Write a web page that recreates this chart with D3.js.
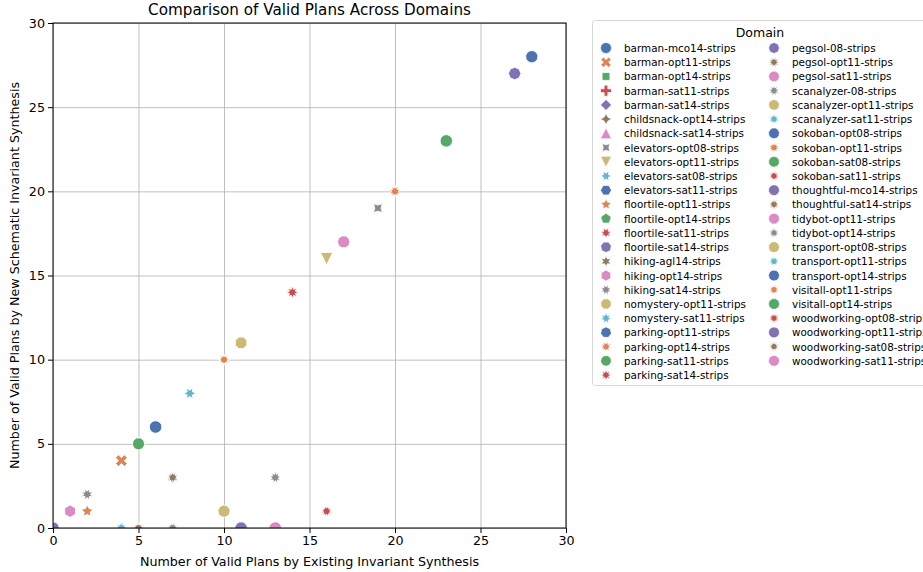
<!DOCTYPE html>
<html>
<head>
<meta charset="utf-8">
<script src="https://cdn.jsdelivr.net/npm/d3@7"></script>
<style>
  body { margin: 0; background: #fff; }
  text { font-family: "DejaVu Sans", sans-serif; fill: #000; }
</style>
</head>
<body>
<div id="chart"></div>
<script>
// domains in legend order (plot order too)
const domains = [
  "barman-mco14-strips", "barman-opt11-strips", "barman-opt14-strips", "barman-sat11-strips",
  "barman-sat14-strips", "childsnack-opt14-strips", "childsnack-sat14-strips", "elevators-opt08-strips",
  "elevators-opt11-strips", "elevators-sat08-strips", "elevators-sat11-strips", "floortile-opt11-strips",
  "floortile-opt14-strips", "floortile-sat11-strips", "floortile-sat14-strips", "hiking-agl14-strips",
  "hiking-opt14-strips", "hiking-sat14-strips", "nomystery-opt11-strips", "nomystery-sat11-strips",
  "parking-opt11-strips", "parking-opt14-strips", "parking-sat11-strips", "parking-sat14-strips",
  "pegsol-08-strips", "pegsol-opt11-strips", "pegsol-sat11-strips", "scanalyzer-08-strips",
  "scanalyzer-opt11-strips", "scanalyzer-sat11-strips", "sokoban-opt08-strips", "sokoban-opt11-strips",
  "sokoban-sat08-strips", "sokoban-sat11-strips", "thoughtful-mco14-strips", "thoughtful-sat14-strips",
  "tidybot-opt11-strips", "tidybot-opt14-strips", "transport-opt08-strips", "transport-opt11-strips",
  "transport-opt14-strips", "visitall-opt11-strips", "visitall-opt14-strips", "woodworking-opt08-strips",
  "woodworking-opt11-strips", "woodworking-sat08-strips", "woodworking-sat11-strips"
];
// valid plans, existing invariant synthesis (x)
const existingPlans = [
  6, 4, 0, 0, 0, 0, 0, 19,
  16, 8, 0, 2, 5, 0, 11, 7,
  1, 2, 11, 4, 0, 14, 5, 14,
  27, 0, 17, 13, 10, 4, 28, 20,
  23, 16, 11, 7, 13, 7, 0, 0,
  0, 10, 23, 0, 0, 5, 13
];
// valid plans, new schematic invariant synthesis (y)
const schematicPlans = [
  6, 4, 0, 0, 0, 0, 0, 19,
  16, 8, 0, 1, 5, 0, 0, 3,
  1, 2, 11, 0, 0, 14, 5, 14,
  27, 0, 17, 3, 1, 0, 28, 20,
  23, 1, 0, 3, 0, 0, 0, 0,
  0, 10, 23, 0, 0, 0, 0
];
const ticks = [0, 5, 10, 15, 20, 25, 30];

const palette = ["#4c72b0", "#dd8452", "#55a868", "#c44e52", "#8172b3",
                 "#937860", "#da8bc3", "#8c8c8c", "#ccb974", "#64b5cd"];

// seaborn's default marker cycle
function markerCycle(n) {
  const m = [["o"], ["X"], ["poly", 4, 45], ["P"], ["poly", 4, 0], ["star", 4, 0], ["^"], ["star", 4, 45], ["v"]];
  let s = 5;
  while (m.length < n) {
    const a = 360 / (s + 1) / 2;
    m.push(["star", s + 1, a], ["poly", s + 1, a], ["star", s, 0], ["poly", s, 0]);
    s++;
  }
  return m;
}

function ring(pts) {
  return "M" + pts.map(p => p[0].toFixed(2) + "," + p[1].toFixed(2)).join("L") + "Z";
}

function markerPath(m, d) {
  const r = d / 2;
  if (m[0] === "o") return d3.symbol(d3.symbolCircle, Math.PI * r * r)();
  if (m[0] === "^") return ring([[0, -r], [-r, r], [r, r]]);
  if (m[0] === "v") return ring([[0, r], [-r, -r], [r, -r]]);
  if (m[0] === "P" || m[0] === "X") {
    const base = [[-1, -3], [1, -3], [1, -1], [3, -1], [3, 1], [1, 1], [1, 3], [-1, 3], [-1, 1], [-3, 1], [-3, -1], [-1, -1]];
    const rot = m[0] === "X" ? Math.PI / 4 : 0;
    return ring(base.map(([x, y]) => {
      const X = x * d / 6, Y = y * d / 6;
      return [X * Math.cos(rot) - Y * Math.sin(rot), X * Math.sin(rot) + Y * Math.cos(rot)];
    }));
  }
  const n = m[1], rot = m[2] * Math.PI / 180;
  const pts = [];
  if (m[0] === "poly") {
    for (let k = 0; k < n; k++) {
      const t = 2 * Math.PI * k / n + Math.PI / 2 + rot;
      pts.push([r * Math.cos(t), -r * Math.sin(t)]);
    }
  } else {
    for (let k = 0; k < 2 * n; k++) {
      const t = Math.PI * k / n + Math.PI / 2 + rot;
      const rr = k % 2 === 0 ? r : r * 0.5;
      pts.push([rr * Math.cos(t), -rr * Math.sin(t)]);
    }
  }
  return ring(pts);
}

const markers = markerCycle(domains.length);
const rows = domains.map((name, i) => ({
  name: name, x: existingPlans[i], y: schematicPlans[i],
  color: palette[i % palette.length], marker: markers[i]
}));

const width = 923, height = 572;
const margin = {left: 53, top: 23, right: 357, bottom: 44};
const plotW = width - margin.left - margin.right;
const plotH = height - margin.top - margin.bottom;

const svg = d3.select("#chart").append("svg")
  .attr("width", width).attr("height", height);

const chart = svg.append("g")
  .attr("transform", "translate(" + margin.left + "," + margin.top + ")");

const xScale = d3.scaleLinear().domain([0, 30]).range([0, plotW]);
const yScale = d3.scaleLinear().domain([0, 30]).range([plotH, 0]);

// gridlines
chart.append("g")
  .attr("transform", "translate(0," + plotH + ")")
  .call(d3.axisBottom(xScale).tickValues(ticks).tickSize(-plotH).tickFormat(""))
  .call(g => g.select(".domain").remove())
  .call(g => g.selectAll("line").attr("stroke", "#b0b0b0").attr("stroke-width", 0.8));
chart.append("g")
  .call(d3.axisLeft(yScale).tickValues(ticks).tickSize(-plotW).tickFormat(""))
  .call(g => g.select(".domain").remove())
  .call(g => g.selectAll("line").attr("stroke", "#b0b0b0").attr("stroke-width", 0.8));

// points
svg.append("clipPath").attr("id", "plotclip")
  .append("rect").attr("width", plotW).attr("height", plotH);

chart.append("g")
  .attr("clip-path", "url(#plotclip)")
  .selectAll("path")
  .data(rows)
  .join("path")
  .attr("transform", d => "translate(" + xScale(d.x) + "," + yScale(d.y) + ")")
  .attr("d", d => markerPath(d.marker, 12.5))
  .attr("fill", d => d.color)
  .attr("stroke", "#fff")
  .attr("stroke-width", 0.9);

// axes
const xAxis = chart.append("g")
  .attr("transform", "translate(0," + plotH + ")")
  .call(d3.axisBottom(xScale).tickValues(ticks).tickSize(5).tickPadding(3));
const yAxis = chart.append("g")
  .call(d3.axisLeft(yScale).tickValues(ticks).tickSize(5).tickPadding(3));
[xAxis, yAxis].forEach(a => {
  a.selectAll("text").attr("font-size", 12.7).attr("font-family", "DejaVu Sans, sans-serif");
  a.select(".domain").remove();
});

// frame
chart.append("rect")
  .attr("width", plotW).attr("height", plotH)
  .attr("fill", "none").attr("stroke", "#000").attr("stroke-width", 1);

// titles
svg.append("text")
  .attr("x", margin.left + plotW / 2).attr("y", 15)
  .attr("text-anchor", "middle").attr("font-size", 15.2)
  .text("Comparison of Valid Plans Across Domains");
svg.append("text")
  .attr("x", margin.left + plotW / 2).attr("y", 566)
  .attr("text-anchor", "middle").attr("font-size", 12.7)
  .text("Number of Valid Plans by Existing Invariant Synthesis");
svg.append("text")
  .attr("transform", "translate(19," + (margin.top + plotH / 2) + ") rotate(-90)")
  .attr("text-anchor", "middle").attr("font-size", 12.7)
  .text("Number of Valid Plans by New Schematic Invariant Synthesis");

// legend
const legend = svg.append("g").attr("transform", "translate(592,20)");
legend.append("rect")
  .attr("x", 0.5).attr("y", 0.5).attr("width", 345).attr("height", 365)
  .attr("rx", 3).attr("fill", "#fff").attr("stroke", "#d6d6d6");
legend.append("text")
  .attr("x", 168).attr("y", 17)
  .attr("text-anchor", "middle").attr("font-size", 12.5)
  .text("Domain");

const perCol = 24;
const items = legend.selectAll("g.item")
  .data(rows)
  .join("g")
  .attr("class", "item")
  .attr("transform", (d, i) => "translate(" + (i < perCol ? 14 : 182) + "," + (28 + (i % perCol) * 14.22) + ")");
items.append("path")
  .attr("d", d => markerPath(d.marker, 11))
  .attr("fill", d => d.color)
  .attr("stroke", "#fff")
  .attr("stroke-width", 0.7);
items.append("text")
  .attr("x", 18).attr("y", 4)
  .attr("font-size", 10.4)
  .text(d => d.name);
</script>
</body>
</html>
